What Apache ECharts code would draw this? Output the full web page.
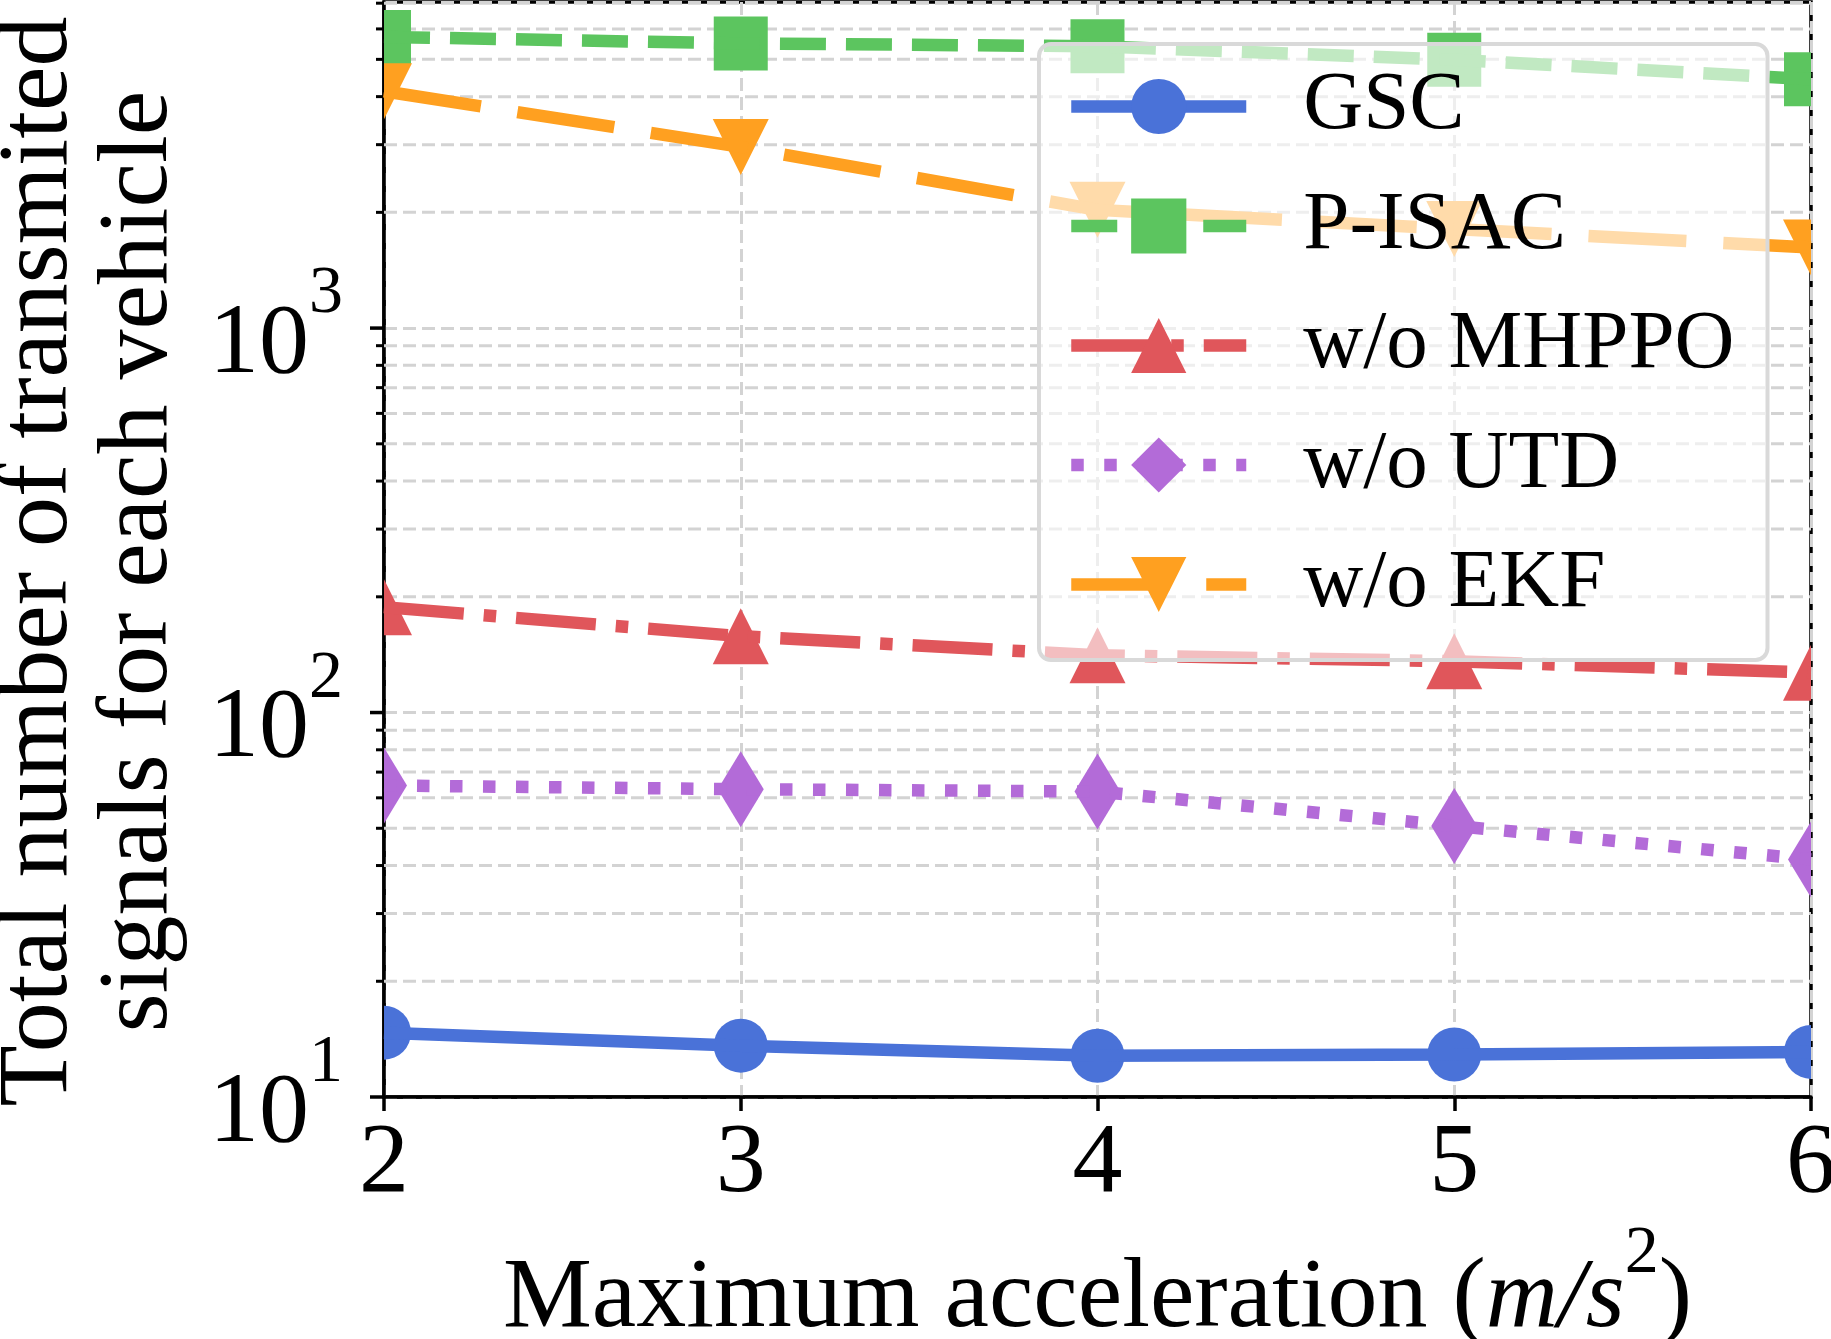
<!DOCTYPE html>
<html>
<head>
<meta charset="UTF-8">
<title>Transmitted signals vs maximum acceleration</title>
<script src="https://cdn.jsdelivr.net/npm/echarts@6/dist/echarts.min.js"></script>
<style>html,body{margin:0;padding:0;background:#fff;}</style>
</head>
<body>
<div id="main" style="width:1831px;height:1339px;"></div>
<script>
// x values (maximum acceleration, m/s^2)
var accel = [2, 3, 4, 5, 6];
// total number of transmitted signals per vehicle
var gsc = [14.7, 13.6, 12.8, 12.9, 13.1];
var pisac = [5720, 5500, 5410, 4990, 4440];
var noMhppo = [188, 158, 141, 136, 127];
var noUtd = [64.6, 63.2, 62.3, 50.7, 41.5];
var noEkf = [4130, 2960, 2030, 1810, 1620];
// y ticks (log axis)
var yMajorTicks = [10, 100, 1000];
var yMinorTicks = [20, 30, 40, 50, 60, 70, 80, 90,
  200, 300, 400, 500, 600, 700, 800, 900,
  2000, 3000, 4000, 5000, 6000, 7000];

var FONT = 'Liberation Serif';
var GRID_COLOR = '#d3d3d3';

function pairs(ys) {
  return accel.map(function (x, i) { return [x, ys[i]]; });
}

// matplotlib-like markers drawn through the axes, clipped at the plot edge
function markerRenderer(kind, color) {
  return function (params, api) {
    var p = api.coord([api.value(0), api.value(1)]);
    var x = p[0], y = p[1];
    var style = { fill: color };
    if (kind === 'circle') {
      return { type: 'circle', shape: { cx: x, cy: y, r: 27 }, style: style };
    }
    if (kind === 'square') {
      return { type: 'rect', shape: { x: x - 27, y: y - 27, width: 54, height: 54 }, style: style };
    }
    if (kind === 'up') {
      return { type: 'polygon', shape: { points: [[x, y - 28], [x + 28, y + 28], [x - 28, y + 28]] }, style: style };
    }
    if (kind === 'down') {
      return { type: 'polygon', shape: { points: [[x - 28, y - 28], [x + 28, y - 28], [x, y + 28]] }, style: style };
    }
    // thin diamond
    return { type: 'polygon', shape: { points: [[x, y - 38], [x + 23, y], [x, y + 38], [x - 23, y]] }, style: style };
  };
}

var lines = [
  { name: 'GSC', data: gsc, color: '#4a72d8', dash: 'solid', symbol: 'circle', kind: 'circle' },
  { name: 'P-ISAC', data: pisac, color: '#5cc55f', dash: [46, 20], symbol: 'rect', kind: 'square' },
  { name: 'w/o MHPPO', data: noMhppo, color: '#e0565b', dash: [80, 20, 12.5, 20], symbol: 'triangle', kind: 'up' },
  { name: 'w/o UTD', data: noUtd, color: '#b36bd8', dash: [12.5, 20.5], symbol: 'path://M0 -10L6 0L0 10L-6 0Z', kind: 'diamond' },
  { name: 'w/o EKF', data: noEkf, color: '#ffa020', dash: [98, 37], symbol: 'path://M-10 -10L10 -10L0 10Z', kind: 'down' }
];

var series = [];

// minor grid lines and minor ticks on the log axis
series.push({
  type: 'custom', coordinateSystem: 'cartesian2d', clip: false, silent: true, z: 1,
  data: yMinorTicks.map(function (v) { return [2, v]; }),
  renderItem: function (params, api) {
    var cs = params.coordSys;
    var y = api.coord([api.value(0), api.value(1)])[1];
    return {
      type: 'group', children: [
        { type: 'line', shape: { x1: cs.x, y1: y, x2: cs.x + cs.width, y2: y },
          style: { stroke: GRID_COLOR, lineWidth: 3, lineDash: [13, 6] } },
        { type: 'line', shape: { x1: cs.x - 8, y1: y, x2: cs.x, y2: y },
          style: { stroke: '#000', lineWidth: 3 } }
      ]
    };
  }
});
// major ticks
series.push({
  type: 'custom', coordinateSystem: 'cartesian2d', clip: false, silent: true, z: 3,
  data: yMajorTicks.map(function (v) { return [2, v]; }),
  renderItem: function (params, api) {
    var cs = params.coordSys;
    var y = api.coord([api.value(0), api.value(1)])[1];
    return { type: 'line', shape: { x1: cs.x - 14, y1: y, x2: cs.x, y2: y },
      style: { stroke: '#000', lineWidth: 3.5 } };
  }
});

lines.forEach(function (s) {
  series.push({
    name: s.name, type: 'line', data: pairs(s.data),
    showSymbol: false, symbol: s.symbol, symbolSize: 55,
    lineStyle: { color: s.color, width: 12.5, type: s.dash, cap: 'butt' },
    itemStyle: { color: s.color },
    emphasis: { disabled: true }
  });
  series.push({
    type: 'custom', coordinateSystem: 'cartesian2d', clip: true, silent: true,
    encode: { x: 0, y: 1 },
    data: pairs(s.data),
    renderItem: markerRenderer(s.kind, s.color)
  });
});

var chart = echarts.init(document.getElementById('main'), null, { renderer: 'canvas' });
chart.setOption({
  animation: false,
  backgroundColor: '#fff',
  grid: {
    left: 384, right: 20, top: 2, bottom: 242, outerBoundsMode: 'none',
    show: true, borderColor: '#000', borderWidth: 3.5
  },
  legend: {
    orient: 'vertical', left: 1039, top: 44,
    itemWidth: 175, itemHeight: 69, itemGap: 36.5,
    padding: [21, 33, 34, 26],
    backgroundColor: 'rgba(255,255,255,0.62)',
    borderColor: '#d9d9d9', borderWidth: 4, borderRadius: 12,
    lineStyle: { width: 12.5 },
    textStyle: { fontFamily: FONT, fontSize: 83, color: '#000', padding: [0, 0, 0, 52] },
    data: lines.map(function (s) { return s.name; })
  },
  xAxis: {
    type: 'value', min: 2, max: 6, interval: 1,
    axisLine: { lineStyle: { color: '#000', width: 3.5 } },
    axisTick: { length: 14, lineStyle: { color: '#000', width: 3.5 } },
    axisLabel: { fontFamily: FONT, fontSize: 100, color: '#000', margin: 18 },
    splitLine: { show: true, lineStyle: { color: GRID_COLOR, width: 3, type: [13, 6] } },
    name: '{n|Maximum acceleration (}{i|m/s}{sup|2}{n|)}',
    nameLocation: 'middle', nameGap: 105,
    nameTextStyle: {
      fontFamily: FONT, fontSize: 100, color: '#000',
      rich: {
        n: { fontFamily: FONT, fontSize: 100, lineHeight: 130, verticalAlign: 'bottom', color: '#000' },
        i: { fontFamily: FONT, fontSize: 100, lineHeight: 130, verticalAlign: 'bottom', fontStyle: 'italic', color: '#000' },
        sup: { fontFamily: FONT, fontSize: 68, lineHeight: 68, verticalAlign: 'top', color: '#000' }
      }
    }
  },
  yAxis: {
    type: 'log', logBase: 10, min: 10, max: 7050,
    axisLine: { show: true, lineStyle: { color: '#000', width: 3.5 } },
    axisTick: { show: false },
    axisLabel: {
      margin: 41,
      formatter: function (v) {
        var e = Math.round(Math.log10(v));
        if (Math.abs(Math.log10(v) - e) > 1e-6) return '';
        return '{b|10}{e|' + e + '}';
      },
      rich: {
        b: { fontFamily: FONT, fontSize: 100, lineHeight: 135, verticalAlign: 'bottom', color: '#000' },
        e: { fontFamily: FONT, fontSize: 68, lineHeight: 68, verticalAlign: 'top', color: '#000' }
      }
    },
    splitLine: { show: true, lineStyle: { color: GRID_COLOR, width: 3, type: [13, 6] } },
    name: 'Total number of transmited\nsignals for each vehicle',
    nameLocation: 'middle', nameGap: 194, nameRotate: 90,
    nameTextStyle: { fontFamily: FONT, fontSize: 100, lineHeight: 100, color: '#000', padding: [0, 24, 0, 0] }
  },
  series: series
});
</script>
</body>
</html>
